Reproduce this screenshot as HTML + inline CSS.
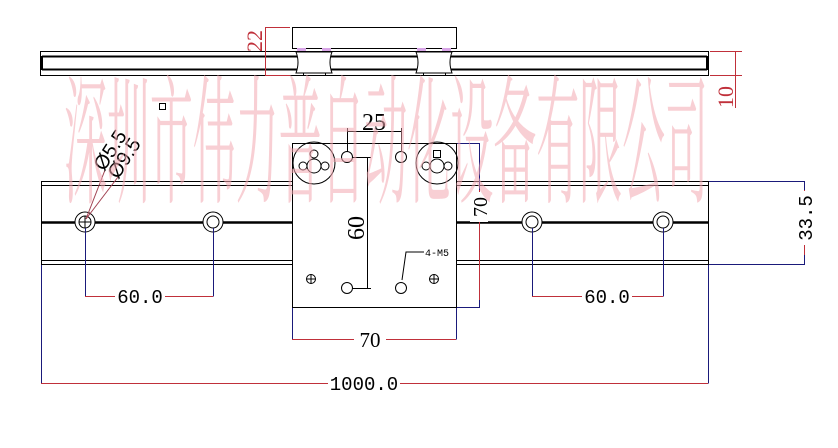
<!DOCTYPE html>
<html><head><meta charset="utf-8"><style>
html,body{margin:0;padding:0;background:#fff;width:838px;height:448px;overflow:hidden}
svg{display:block}
text{font-family:"Liberation Mono","DejaVu Sans Mono",monospace}
</style></head><body>
<svg width="838" height="448" viewBox="0 0 838 448" xmlns="http://www.w3.org/2000/svg">

<g fill="none" stroke="#000" stroke-width="1">
<!-- top rail -->
<rect x="40.5" y="51.5" width="668" height="24"/>
<line x1="42" y1="56.5" x2="707" y2="56.5" stroke-width="2"/>
<line x1="42" y1="69.5" x2="707" y2="69.5" stroke-width="2"/>
<line x1="42" y1="56" x2="42" y2="70" stroke-width="2"/>
<line x1="707" y1="56" x2="707" y2="70" stroke-width="2"/>
<!-- carriage -->
<rect x="292.5" y="27.5" width="164" height="21" fill="#fff"/>
<path d="M296 52 H332 Q328 62 332 73 H296 Q300 62 296 52Z" fill="#fff"/>
<path d="M416 52 H452 Q448 62 452 73 H416 Q420 62 416 52Z" fill="#fff"/>
<rect x="303.5" y="73" width="22" height="2.5" fill="#fff"/>
<rect x="423.5" y="73" width="22" height="2.5" fill="#fff"/>
</g>
<g fill="#d9a6e8">
<rect x="297" y="48" width="9" height="3"/><rect x="322" y="48" width="9" height="3"/>
<rect x="417" y="48" width="9" height="3"/><rect x="442" y="48" width="9" height="3"/>
</g>
<!-- 22 / 10 dims -->
<g stroke="#c0303a" stroke-width="1" fill="none">
<line x1="265" y1="27.5" x2="290" y2="27.5"/>
<line x1="265" y1="75.5" x2="290" y2="75.5"/>
<line x1="265.5" y1="27" x2="265.5" y2="76"/>
<line x1="710" y1="51.5" x2="742" y2="51.5"/>
<line x1="710" y1="75.5" x2="742" y2="75.5"/>
<line x1="735.5" y1="51" x2="735.5" y2="108"/>
</g>
<text transform="translate(262,52) rotate(-90)" font-size="22" fill="#c0303a" style="font-family:'Liberation Serif',serif">22</text>
<text transform="translate(733,108) rotate(-90)" font-size="22" fill="#c0303a" style="font-family:'Liberation Serif',serif">10</text>
<rect x="159.5" y="103.5" width="6" height="6" fill="none" stroke="#000"/>

<!-- main rail -->
<g fill="none" stroke="#000">
<line x1="41" y1="181.5" x2="708" y2="181.5"/>
<line x1="41" y1="185.5" x2="708" y2="185.5"/>
<line x1="41.5" y1="181" x2="41.5" y2="265"/>
<line x1="708.5" y1="181" x2="708.5" y2="265"/>
<line x1="41" y1="222.5" x2="708" y2="222.5" stroke-width="2.5"/>
<line x1="41" y1="260.5" x2="708" y2="260.5"/>
<line x1="41" y1="264.5" x2="708" y2="264.5"/>
<g fill="#fff">
<circle cx="85" cy="222" r="10"/><circle cx="85" cy="222" r="6"/>
<circle cx="213" cy="222" r="10"/><circle cx="213" cy="222" r="6"/>
<circle cx="532" cy="222" r="10"/><circle cx="532" cy="222" r="6"/>
<circle cx="663" cy="222" r="10"/><circle cx="663" cy="222" r="6"/>
</g>
<line x1="79" y1="222" x2="91" y2="222"/><line x1="85" y1="216" x2="85" y2="228"/>
<!-- plate -->
<rect x="292.5" y="143.5" width="164" height="164" fill="#fff"/>
<circle cx="314" cy="163" r="21"/><circle cx="437" cy="163" r="21"/>
<circle cx="314" cy="166" r="7"/><circle cx="314" cy="154" r="4"/><circle cx="303" cy="166" r="4"/><circle cx="325" cy="166" r="4"/>
<circle cx="437" cy="166" r="7"/><rect x="433.5" y="150.5" width="7" height="7"/><circle cx="426" cy="166" r="4"/><circle cx="448" cy="166" r="4"/>
<circle cx="347" cy="157" r="5.5"/><circle cx="401" cy="157" r="5.5"/>
<circle cx="347" cy="288" r="5.5"/><circle cx="401" cy="288" r="5.5"/>
<circle cx="311" cy="279" r="4.5"/><line x1="306" y1="279" x2="316" y2="279"/><line x1="311" y1="274" x2="311" y2="284"/>
<circle cx="434" cy="279" r="4.5"/><line x1="429" y1="279" x2="439" y2="279"/><line x1="434" y1="274" x2="434" y2="284"/>
<line x1="347.5" y1="128" x2="347.5" y2="152"/><line x1="401.5" y1="128" x2="401.5" y2="152"/>
<line x1="347" y1="131.5" x2="401" y2="131.5"/>
<line x1="352" y1="157.5" x2="371" y2="157.5"/><line x1="352" y1="288.5" x2="371" y2="288.5"/>
<line x1="367.5" y1="158" x2="367.5" y2="288"/>
<polyline points="402,280 406,252 424,252"/>
</g>
<text x="374" y="130" font-size="24" text-anchor="middle" style="font-family:'Liberation Serif',serif">25</text>
<text transform="translate(364,240) rotate(-90)" font-size="24" style="font-family:'Liberation Serif',serif">60</text>
<text x="425" y="256" font-size="10">4-M5</text>

<!-- blue/red dims -->
<g fill="none" stroke-width="1">
<path d="M457 143.5 H479.5 V307.5 H457" stroke="#1a1a7a"/>
<path d="M292.5 308 V339.5 M456.5 308 V339.5" stroke="#1a1a7a"/>
<line x1="292" y1="339.5" x2="456" y2="339.5" stroke="#c0303a"/>
<line x1="479.5" y1="190" x2="479.5" y2="300" stroke="#c0303a"/>
<path d="M709 181.5 H804.5 V264.5 H709" stroke="#1a1a7a"/>
<line x1="804.5" y1="190" x2="804.5" y2="255" stroke="#c0303a"/>
<path d="M85.5 228 V296.5 M213.5 228 V296.5 M532.5 228 V296.5 M663.5 228 V296.5 M41.5 265 V383.5 M708.5 265 V383.5" stroke="#1a1a7a"/>
<line x1="85" y1="296.5" x2="213" y2="296.5" stroke="#c0303a"/>
<line x1="532" y1="296.5" x2="663" y2="296.5" stroke="#c0303a"/>
<line x1="41" y1="383.5" x2="708" y2="383.5" stroke="#c0303a"/>
<line x1="86" y1="219" x2="105" y2="170" stroke="#a04050"/>
<line x1="86" y1="219" x2="118" y2="177" stroke="#a04050"/>
</g>
<g fill="#000">
<rect x="354" y="329" width="32" height="20" fill="#fff"/>
<text x="370" y="347" text-anchor="middle" style="font-family:'Liberation Serif',serif" font-size="21">70</text>
<rect x="470" y="192" width="18" height="30" fill="#fff"/>
<text transform="translate(487,207) rotate(-90)" text-anchor="middle" style="font-family:'Liberation Serif',serif" font-size="20">70</text>
<rect x="796" y="191" width="18" height="54" fill="#fff"/>
<text transform="translate(812,218) rotate(-90)" text-anchor="middle" font-size="19">33.5</text>
<rect x="115" y="286" width="50" height="20" fill="#fff"/>
<text x="140" y="303" text-anchor="middle" font-size="19">60.0</text>
<rect x="582" y="286" width="50" height="20" fill="#fff"/>
<text x="607" y="303" text-anchor="middle" font-size="19">60.0</text>
<rect x="328" y="373" width="72" height="20" fill="#fff"/>
<text x="364" y="390" text-anchor="middle" font-size="19">1000.0</text>
<text transform="translate(104,172) rotate(-57)" font-size="20" style="font-family:'Liberation Sans',sans-serif">Ø5.5</text>
<text transform="translate(118,180) rotate(-57)" font-size="20" style="font-family:'Liberation Sans',sans-serif">Ø9.5</text>
</g>

<!-- watermark -->
<text x="64" y="192" font-size="140" fill="#f2a8b0" fill-opacity="0.55" textLength="644" lengthAdjust="spacingAndGlyphs" style="font-family:'Noto Serif CJK SC','Noto Sans CJK SC',serif">深圳市伟力普自动化设备有限公司</text>
</svg>
</body></html>
